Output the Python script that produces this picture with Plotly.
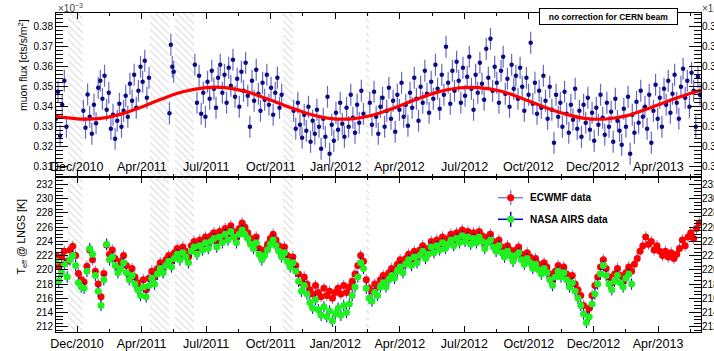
import plotly.graph_objects as go

# ---------------- data ----------------
# x axis in days, counted from the "Dec/2010" tick; ticks every 91.5 days
tick_step = 91.5
tick_labels = ["Dec/2010", "Apr/2011", "Jul/2011", "Oct/2011", "Jan/2012",
               "Apr/2012", "Jul/2012", "Oct/2012", "Dec/2012", "Apr/2013"]
x_range = [-29.8, 884.4]

# periods without muon data (hatched)
gap_start = [-12.8, 103.5, 138.9, 291.9, 409.6]
gap_end = [8.5, 130.4, 165.8, 306.1, 414.2]

# muon flux (x10^-3 cts/s/m^2), segments: (first day, step in days, values)
flux_seg1 = (-30, 3, [0.3340, 0.3475, 0.3255, 0.3410, 0.3530, 0.3300])
flux_seg2 = (9, 3, [0.3380, 0.3295, 0.3462, 0.3350, 0.3265, 0.3410, 0.3318, 0.3495,
                    0.3530, 0.3440, 0.3555, 0.3385, 0.3470, 0.3290, 0.3360, 0.3240,
                    0.3330, 0.3415, 0.3300, 0.3380, 0.3455, 0.3350, 0.3515, 0.3430,
                    0.3560, 0.3395, 0.3480, 0.3600, 0.3525, 0.3630, 0.3445, 0.3545])
flux_seg3 = (131, 2, [0.3368, 0.3710, 0.3600, 0.3575])
flux_seg4 = (167, 3, [0.3610, 0.3420, 0.3555, 0.3365, 0.3470, 0.3350, 0.3525, 0.3440,
                      0.3580, 0.3490, 0.3395, 0.3545, 0.3610, 0.3470, 0.3560, 0.3420,
                      0.3595, 0.3505, 0.3635, 0.3450, 0.3540, 0.3400, 0.3575, 0.3480,
                      0.3620, 0.3455, 0.3300, 0.3530, 0.3430, 0.3585, 0.3465, 0.3380,
                      0.3520, 0.3435, 0.3560, 0.3410, 0.3495, 0.3360, 0.3470, 0.3545,
                      0.3395, 0.3460])
flux_seg5 = (307, 3, [0.3380, 0.3290, 0.3420, 0.3310, 0.3245, 0.3360, 0.3280, 0.3400,
                      0.3225, 0.3330, 0.3265, 0.3385, 0.3300, 0.3190, 0.3340, 0.3250,
                      0.3450, 0.3165, 0.3310, 0.3230, 0.3370, 0.3285, 0.3420, 0.3315,
                      0.3250, 0.3395, 0.3300, 0.3460, 0.3345, 0.3270, 0.3410, 0.3320,
                      0.3480, 0.3365])
flux_seg6 = (415, 3, [0.3420, 0.3310, 0.3475, 0.3350, 0.3265, 0.3400, 0.3445, 0.3300, 0.3380, 0.3495,
                      0.3340, 0.3430, 0.3275, 0.3460, 0.3385, 0.3520, 0.3350, 0.3410, 0.3305, 0.3470,
                      0.3395, 0.3545, 0.3440, 0.3330, 0.3500, 0.3420, 0.3580, 0.3465, 0.3370, 0.3525,
                      0.3440, 0.3610, 0.3490, 0.3390, 0.3560, 0.3460, 0.3700, 0.3520, 0.3415, 0.3580,
                      0.3480, 0.3625, 0.3530, 0.3420, 0.3595, 0.3455, 0.3550, 0.3650, 0.3490, 0.3385,
                      0.3560, 0.3470, 0.3620, 0.3515, 0.3435, 0.3690, 0.3545, 0.3740, 0.3480, 0.3600,
                      0.3520, 0.3420, 0.3580, 0.3650, 0.3465, 0.3540, 0.3400, 0.3610, 0.3490, 0.3555,
                      0.3440, 0.3595, 0.3500, 0.3380, 0.3545, 0.3460, 0.3720, 0.3415, 0.3520, 0.3365,
                      0.3480, 0.3395, 0.3555, 0.3430, 0.3340, 0.3500, 0.3385, 0.3220, 0.3460, 0.3350,
                      0.3420, 0.3300, 0.3475, 0.3365, 0.3270, 0.3410, 0.3335, 0.3490, 0.3290, 0.3380,
                      0.3250, 0.3410, 0.3320, 0.3445, 0.3285, 0.3370, 0.3230, 0.3395, 0.3310, 0.3460,
                      0.3345, 0.3260, 0.3420, 0.3300, 0.3375, 0.3225, 0.3440, 0.3330, 0.3280, 0.3210,
                      0.3390, 0.3300, 0.3450, 0.3165, 0.3360, 0.3270, 0.3425, 0.3320, 0.3480, 0.3350,
                      0.3400, 0.3290, 0.3460, 0.3220, 0.3380, 0.3510, 0.3340, 0.3445, 0.3300, 0.3490,
                      0.3410, 0.3530, 0.3370, 0.3465, 0.3560, 0.3420, 0.3340, 0.3500, 0.3590, 0.3445,
                      0.3530, 0.3400, 0.3570, 0.3480, 0.3300, 0.3550, 0.3460])
flux_err = 0.0055

# fitted seasonal modulation (red curve)
fit_days = [-30, 0, 30, 60, 90, 120, 150, 180, 210, 240, 270, 300, 330, 360, 390, 420,
            450, 480, 510, 540, 570, 600, 630, 660, 690, 720, 750, 780, 810, 840, 870, 884]
fit_vals = [0.3352, 0.3340, 0.3341, 0.3361, 0.3397, 0.3439, 0.3475, 0.3495, 0.3496, 0.3476,
            0.3439, 0.3399, 0.3363, 0.3341, 0.3340, 0.3359, 0.3395, 0.3436, 0.3472, 0.3494,
            0.3496, 0.3479, 0.3443, 0.3402, 0.3366, 0.3342, 0.3339, 0.3356, 0.3392, 0.3432,
            0.3468, 0.3482]

# effective temperature (K), every 4 days from day -30
temp_start, temp_step = -30, 4
temp_ecmwf = [222.0, 220.5, 221.8, 222.6, 221.2, 222.8, 223.3, 222.0, 219.5, 218.6,
              218.3, 220.5, 222.8, 221.4, 219.8, 218.0, 216.2, 219.5, 223.5, 222.2,
              222.8, 221.6, 220.4, 221.2, 222.0, 220.6, 219.4, 220.2, 219.0, 218.2,
              217.5, 218.6, 217.2, 218.8, 219.8, 219.0, 220.2, 221.0, 220.4, 221.4,
              222.0, 221.2, 222.4, 223.0, 222.2, 223.2, 222.6, 221.8, 223.4, 224.0,
              223.0, 224.2, 223.6, 224.6, 223.8, 224.8, 225.2, 224.0, 225.4, 224.6,
              225.8, 225.0, 226.2, 225.4, 224.6, 225.8, 226.6, 226.0, 225.2, 224.4,
              223.8, 224.6, 223.0, 222.2, 222.8, 223.6, 224.4, 225.0, 224.2, 223.4,
              222.6, 223.2, 222.0, 221.2, 221.8, 220.6, 219.4, 218.2, 219.0, 218.0,
              217.2, 216.6, 217.8, 216.8, 216.2, 217.4, 216.4, 217.0, 216.0, 216.8,
              217.4, 216.6, 217.8, 216.8, 217.6, 218.4, 219.4, 220.6, 222.0, 221.2,
              218.6, 217.4, 217.0, 218.0, 217.6, 218.6, 219.2, 218.6, 219.6, 220.2,
              219.8, 220.8, 221.4, 220.6, 221.6, 222.2, 221.4, 222.6, 221.8, 222.8,
              223.4, 222.4, 223.0, 224.0, 223.2, 224.2, 223.6, 224.6, 223.8, 224.4,
              225.0, 224.2, 225.2, 224.6, 225.6, 224.8, 225.4, 224.4, 225.2, 224.6,
              225.4, 224.8, 223.8, 224.6, 225.0, 224.0, 223.4, 224.2, 223.2, 222.6,
              223.4, 222.8, 222.0, 222.8, 223.2, 222.2, 221.6, 222.4, 221.8, 221.0,
              221.6, 220.8, 220.2, 221.0, 220.4, 219.4, 218.6, 219.8, 220.6, 219.8,
              220.4, 219.4, 218.6, 219.2, 218.0, 217.2, 216.4, 215.0, 213.8, 214.6,
              216.4, 217.8, 219.0, 220.4, 221.4, 220.2, 219.0, 218.2, 219.4, 220.2,
              219.2, 218.4, 219.6, 220.4, 219.8, 220.8, 221.6, 222.6, 223.4, 224.6,
              223.6, 224.0, 222.8, 223.4, 222.6, 222.0, 222.6, 221.8, 222.4, 221.6,
              222.2, 223.0, 224.2, 223.4, 224.6, 225.2, 224.4, 225.8, 226.6]
temp_airs = [221.2, 218.4, 219.6, 220.8, 219.0, 221.4, 222.0, 220.6, 218.2, 217.6,
             217.4, 219.8, 223.0, 222.2, 219.2, 217.0, 215.0, 218.6, 223.6, 221.4,
             221.8, 220.6, 219.6, 220.2, 221.0, 219.6, 218.6, 219.2, 218.0, 217.2,
             216.4, 217.6, 216.2, 217.8, 218.8, 218.0, 219.4, 220.2, 219.6, 220.6,
             221.2, 220.4, 221.6, 222.2, 221.4, 222.4, 221.8, 221.0, 222.6, 223.2,
             222.2, 223.4, 222.8, 223.8, 223.0, 224.0, 224.4, 223.2, 224.6, 223.8,
             225.0, 224.2, 225.4, 224.6, 223.8, 225.0, 225.6, 225.0, 224.4, 223.6,
             223.0, 223.8, 222.2, 221.4, 222.0, 222.8, 223.6, 224.2, 223.4, 222.6,
             221.8, 222.4, 221.2, 220.4, 221.0, 219.8, 218.4, 217.0, 217.8, 216.6,
             215.4, 214.6, 215.8, 214.4, 213.6, 214.8, 213.4, 214.2, 212.8, 213.8,
             214.6, 213.6, 215.0, 214.0, 215.2, 216.4, 217.6, 219.0, 221.0, 220.2,
             217.4, 216.0, 215.6, 216.8, 216.4, 217.6, 218.2, 217.6, 218.6, 219.2,
             218.8, 219.8, 220.4, 219.6, 220.8, 221.4, 220.6, 221.8, 221.0, 222.0,
             222.6, 221.6, 222.2, 223.2, 222.4, 223.4, 222.8, 223.8, 223.0, 223.6,
             224.2, 223.4, 224.4, 223.8, 224.8, 224.0, 224.6, 223.6, 224.4, 223.8,
             224.6, 224.0, 223.0, 223.8, 224.2, 223.2, 222.6, 223.4, 222.4, 221.8,
             222.6, 222.0, 221.2, 222.0, 222.4, 221.4, 220.8, 221.6, 221.0, 220.2,
             220.8, 220.0, 219.4, 220.2, 219.6, 218.6, 217.8, 219.0, 219.8, 219.0,
             219.6, 218.6, 217.6, 218.2, 217.0, 216.0, 215.0, 213.8, 212.6, 213.4,
             215.2, 216.6, 218.0, 219.4, 220.6, 219.2, 218.0, 217.2, 218.4, 219.2,
             218.2, 217.6, 218.8, 219.4, 218.0]
temp_err = 0.8

# ---------------- layout constants ----------------
W, H = 714, 351
ML, MR, MT, MB = 56, 13, 13, 19
top_range = [0.3049, 0.3869]
bot_range = [211.26, 233.05]
split = (H - MB - 177) / (H - MT - MB)
FONT = "Liberation Sans, Arial, Helvetica, sans-serif"


def px_x(p):
    return (p - ML) / (W - ML - MR)


def px_y(p):
    return (H - MB - p) / (H - MT - MB)


flux_x, flux_y = [], []
for start, step, vals in [flux_seg1, flux_seg2, flux_seg3, flux_seg4, flux_seg5, flux_seg6]:
    flux_x += [start + step * i for i in range(len(vals))]
    flux_y += vals

ecmwf_x = [temp_start + temp_step * i for i in range(len(temp_ecmwf))]
airs_x = [temp_start + temp_step * i for i in range(len(temp_airs))]

gap_c = [(a + b) / 2 for a, b in zip(gap_start, gap_end)]
gap_w = [b - a for a, b in zip(gap_start, gap_end)]

fig = go.Figure()

hatch = dict(color="rgba(0,0,0,0)", line=dict(width=0),
             pattern=dict(shape="\\", fgcolor="#a8a8a8", size=5, solidity=0.18))
fig.add_trace(go.Bar(x=gap_c, width=gap_w, base=[top_range[0]] * len(gap_c),
                     y=[top_range[1] - top_range[0]] * len(gap_c),
                     marker=hatch, xaxis="x", yaxis="y", hoverinfo="skip"))
fig.add_trace(go.Bar(x=gap_c, width=gap_w, base=[bot_range[0]] * len(gap_c),
                     y=[bot_range[1] - bot_range[0]] * len(gap_c),
                     marker=hatch, xaxis="x2", yaxis="y2", hoverinfo="skip"))

fig.add_trace(go.Scatter(x=flux_x, y=flux_y, mode="markers", xaxis="x", yaxis="y",
                         marker=dict(size=4.5, color="#0b0b88"),
                         error_y=dict(type="constant", value=flux_err, thickness=1.2,
                                      width=0, color="rgba(55,55,175,0.75)")))
fig.add_trace(go.Scatter(x=fit_days, y=fit_vals, mode="lines", xaxis="x", yaxis="y3",
                         line=dict(color="#ff0000", width=3.2, shape="spline")))

fig.add_trace(go.Scatter(x=ecmwf_x, y=temp_ecmwf, mode="markers", xaxis="x2", yaxis="y2",
                         marker=dict(size=7, color="#ff0000"),
                         error_y=dict(type="constant", value=temp_err, thickness=1,
                                      width=0, color="#7a7ad8")))
fig.add_trace(go.Scatter(x=airs_x, y=temp_airs, mode="markers", xaxis="x2", yaxis="y4",
                         marker=dict(size=7, color="#1ff01f"),
                         error_y=dict(type="constant", value=temp_err, thickness=1,
                                      width=0, color="#0000c8")))

major = [tick_step * k for k in range(len(tick_labels))]
minor = [tick_step * (k + 0.5) for k in range(-1, len(tick_labels))]

xcommon = dict(range=x_range, tickmode="array", tickvals=major, ticktext=tick_labels,
               ticks="inside", ticklen=6, tickcolor="black", showline=True,
               linecolor="black", linewidth=1, mirror="ticks", showgrid=False,
               zeroline=False, tickfont=dict(size=12.5, color="black"),
               minor=dict(tickmode="array", tickvals=minor, ticks="inside",
                          ticklen=3, tickcolor="black"))
ycommon = dict(ticks="inside", ticklen=12, tickcolor="black", showline=True,
               linecolor="black", linewidth=1, mirror="ticks", showgrid=False,
               zeroline=False, tickfont=dict(size=10, color="black"))

fig.update_layout(
    width=W, height=H,
    margin=dict(l=ML, r=MR, t=MT, b=MB, autoexpand=False),
    paper_bgcolor="white", plot_bgcolor="white",
    font=dict(family=FONT, color="black"),
    showlegend=False, barmode="overlay", bargap=0,
    xaxis=dict(anchor="y", showticklabels=False, **xcommon),
    xaxis2=dict(anchor="y2", matches="x", **xcommon),
    yaxis=dict(domain=[split, 1], anchor="x", range=top_range, tickmode="linear",
               tick0=0.30, dtick=0.01, tickformat=".2f",
               minor=dict(tick0=0.30, dtick=0.002, ticks="inside", ticklen=7,
                          tickcolor="black"), **ycommon),
    yaxis2=dict(domain=[0, split], anchor="x2", range=bot_range, tickmode="linear",
                tick0=210, dtick=2,
                minor=dict(tick0=210, dtick=0.5, ticks="inside", ticklen=7,
                           tickcolor="black"), **ycommon),
    yaxis3=dict(overlaying="y", side="right", anchor="x", range=top_range,
                tickmode="linear", tick0=0.30, dtick=0.01, tickformat=".2f",
                ticks="", showline=False, showgrid=False, zeroline=False,
                tickfont=dict(size=10, color="black")),
    yaxis4=dict(overlaying="y2", side="right", anchor="x2", range=bot_range,
                tickmode="linear", tick0=210, dtick=2, ticks="", showline=False,
                showgrid=False, zeroline=False, tickfont=dict(size=10, color="black")),
)

ann = []
# tick labels of the upper panel, drawn just above its time axis
for v, t in zip(major, tick_labels):
    ann.append(dict(text=t, x=v, xref="x", y=px_y(167), yref="paper", xanchor="center",
                    yanchor="middle", showarrow=False, font=dict(size=12.5)))
ann.append(dict(text="×10<sup>−3</sup>", x=px_x(56), y=px_y(16), xanchor="left",
                yanchor="bottom", showarrow=False, font=dict(size=10, color="#444")))
ann.append(dict(text="×10<sup>−3</sup>", x=px_x(700), y=px_y(16), xanchor="left",
                yanchor="bottom", showarrow=False, font=dict(size=10, color="#444")))
ann.append(dict(text="muon flux [cts/s/m<sup>2</sup>]", x=px_x(23), y=px_y(17),
                xanchor="center", yanchor="top", textangle=-90, showarrow=False,
                font=dict(size=10.5)))
ann.append(dict(text="T<sub>eff</sub> @ LNGS [K]", x=px_x(21), y=px_y(198),
                xanchor="center", yanchor="top", textangle=-90, showarrow=False,
                font=dict(size=10.5)))
ann.append(dict(text="<b>no correction for CERN beam</b>", x=px_x(608.5), y=px_y(16.5),
                xanchor="center", yanchor="middle", showarrow=False, bgcolor="white",
                bordercolor="black", borderwidth=1, borderpad=1, width=135, height=13,
                font=dict(size=8.5)))
ann.append(dict(text="<b>ECWMF data</b>", x=px_x(528), y=px_y(197.7), xanchor="left",
                yanchor="middle", showarrow=False, font=dict(size=10)))
ann.append(dict(text="<b>NASA AIRS data</b>", x=px_x(528), y=px_y(219.3), xanchor="left",
                yanchor="middle", showarrow=False, font=dict(size=10)))
for a in ann:
    a.setdefault("xref", "paper")
    a.setdefault("yref", "paper")

shapes = []
for cy, lc, mc in [(197.7, "#8080d8", "#ff0000"), (219.3, "#0000cc", "#1ff01f")]:
    shapes.append(dict(type="line", xref="paper", yref="paper", x0=px_x(498), x1=px_x(523),
                       y0=px_y(cy), y1=px_y(cy), line=dict(color=lc, width=1.5)))
    shapes.append(dict(type="line", xref="paper", yref="paper", x0=px_x(510.7), x1=px_x(510.7),
                       y0=px_y(cy - 7.5), y1=px_y(cy + 7.5), line=dict(color=lc, width=1.5)))
    shapes.append(dict(type="circle", xref="paper", yref="paper", x0=px_x(507.2), x1=px_x(514.2),
                       y0=px_y(cy - 3.5), y1=px_y(cy + 3.5), fillcolor=mc,
                       line=dict(width=0)))
fig.update_layout(annotations=ann, shapes=shapes)

fig.write_html("out.html")
